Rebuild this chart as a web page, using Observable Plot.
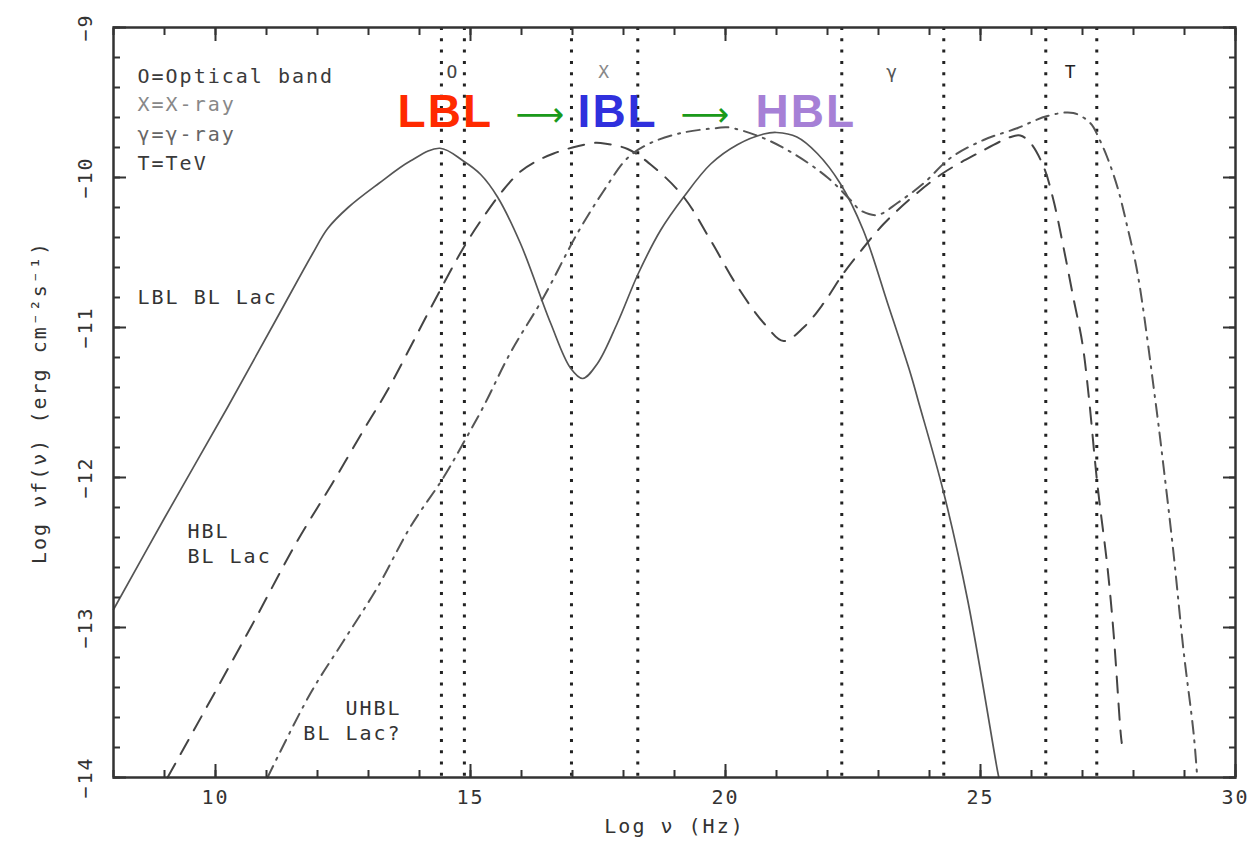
<!DOCTYPE html>
<html>
<head>
<meta charset="utf-8">
<script src="https://cdn.jsdelivr.net/npm/d3@7"></script>
<script src="https://cdn.jsdelivr.net/npm/@observablehq/plot@0.6"></script>
<style>
  html, body { margin: 0; padding: 0; background: #fff; }
  #chart svg { display: block; }
</style>
</head>
<body>
<div id="chart"></div>
<script>
// Synchrotron + inverse-Compton SED shapes of the three BL Lac classes
// (log frequency in Hz vs log nuF(nu) in erg cm^-2 s^-1)

const lblX = [8, 9, 10.24, 11.2, 11.9, 12.2, 12.6, 13.2, 13.82, 14.4, 14.86, 15.2, 15.53, 15.98, 16.57, 16.96, 17.2, 17.49, 17.88, 18.29, 18.73, 19.18, 19.71, 20.24, 20.75, 21.0, 21.4, 21.8, 22.25, 22.7, 23.18, 23.63, 23.78, 24.27, 24.75, 25.33, 25.36];
const lblY = [-12.88, -12.27, -11.53, -10.94, -10.51, -10.34, -10.2, -10.04, -9.89, -9.805, -9.89, -9.98, -10.13, -10.44, -10.97, -11.27, -11.34, -11.24, -10.97, -10.64, -10.35, -10.13, -9.91, -9.78, -9.71, -9.70, -9.73, -9.84, -10.04, -10.35, -10.84, -11.31, -11.49, -12.09, -12.82, -13.95, -14.0];

const hblX = [9.06, 10.69, 11.61, 12.29, 12.98, 13.37, 14.22, 14.86, 15.3, 15.65, 15.98, 16.3, 16.63, 17.0, 17.41, 17.55, 18.08, 18.59, 19.18, 19.71, 20.24, 20.75, 21.14, 21.53, 21.92, 22.31, 22.7, 23.1, 23.63, 24.27, 24.94, 25.59, 25.78, 25.98, 26.24, 26.43, 26.63, 26.82, 27.0, 27.12, 27.29, 27.49, 27.61, 27.75, 27.77];
const hblY = [-14.0, -13.0, -12.42, -12.04, -11.64, -11.42, -10.87, -10.47, -10.24, -10.08, -9.96, -9.89, -9.84, -9.8, -9.77, -9.77, -9.81, -9.93, -10.13, -10.42, -10.73, -10.97, -11.09, -11.0, -10.84, -10.64, -10.47, -10.31, -10.14, -9.97, -9.84, -9.73, -9.72, -9.77, -9.93, -10.15, -10.47, -10.8, -11.11, -11.45, -12.04, -12.6, -13.04, -13.71, -13.77];

const uhblX = [11.02, 11.86, 12.51, 13.18, 13.82, 14.47, 14.86, 15.25, 15.78, 16.43, 17.1, 17.61, 18.08, 18.53, 19.18, 19.84, 20.04, 20.69, 21.33, 22.0, 22.45, 22.65, 22.98, 23.37, 23.88, 24.41, 25.06, 25.73, 26.31, 26.82, 27.16, 27.31, 27.49, 27.69, 27.88, 28.08, 28.43, 28.59, 28.78, 28.98, 29.18, 29.25];
const uhblY = [-14.0, -13.44, -13.09, -12.73, -12.33, -12.0, -11.77, -11.53, -11.17, -10.8, -10.37, -10.09, -9.87, -9.77, -9.70, -9.67, -9.665, -9.73, -9.84, -10.0, -10.15, -10.22, -10.25, -10.17, -10.04, -9.87, -9.75, -9.67, -9.59, -9.57, -9.64, -9.73, -9.87, -10.07, -10.33, -10.64, -11.49, -11.93, -12.49, -13.15, -13.71, -14.0];

// observing bands (log Hz edges)
const bandNames = ["O", "X", "γ", "T"];
const bandLo = [14.43, 16.98, 22.28, 26.28];
const bandHi = [14.88, 18.28, 24.28, 27.28];
const bandColors = ["#444", "#888", "#555", "#222"];

const legendLines = ["O=Optical band", "X=X-ray", "γ=γ-ray", "T=TeV"];

// curve annotations: text, anchor x (log Hz), baseline y (log nuFnu)
const curveLabels = ["LBL BL Lac", "HBL\nBL Lac", "UHBL\nBL Lac?"];
const curveLabelX = [8.47, 9.45, 13.65];
const curveLabelY = [-10.84, -12.567, -13.747];

// sequence headline
const seqNames = ["LBL", "IBL", "HBL"];
const seqX = [13.57, 17.10, 20.59];
const seqY = -9.665;
const seqColors = ["#ff2a00", "#3030dd", "#a680d6"];
const arrowX = [15.88, 19.12];

const xMajor = [10, 15, 20, 25, 30];
const xMinor = d3.range(8, 31, 1);
const yMajor = [-14, -13, -12, -11, -10, -9];
const yMinor = d3.range(-14, -8.99, 0.2).map(v => +v.toFixed(1));

const xLabel = "Log ν (Hz)";
const yLabel = "Log νf(ν) (erg cm⁻²s⁻¹)";

const toPoints = (xs, ys) => xs.map((x, i) => ({x, y: ys[i]}));
const lbl = toPoints(lblX, lblY);
const hbl = toPoints(hblX, hblY);
const uhbl = toPoints(uhblX, uhblY);
const bands = bandNames.map((name, i) => ({name, lo: bandLo[i], hi: bandHi[i], color: bandColors[i]}));
const bandEdges = bandLo.concat(bandHi);
const curveAnn = curveLabels.map((t, i) => ({t, x: curveLabelX[i], y: curveLabelY[i]}));
const seq = seqNames.map((t, i) => ({t, x: seqX[i], y: seqY, color: seqColors[i]}));

const mono = "DejaVu Sans Mono";
const axisColor = "#333";
const minus = v => String(v).replace("-", "−");

const tickAxes = [];
for (const anchor of ["bottom", "top"]) {
  tickAxes.push(Plot.axisX({anchor, ticks: xMinor, tickSize: -7, tickFormat: () => "", label: null, stroke: axisColor, strokeWidth: 2}));
  tickAxes.push(Plot.axisX({anchor, ticks: xMajor, tickSize: -13, tickFormat: () => "", label: null, stroke: axisColor, strokeWidth: 2}));
}
for (const anchor of ["left", "right"]) {
  tickAxes.push(Plot.axisY({anchor, ticks: yMinor, tickSize: -7, tickFormat: () => "", label: null, stroke: axisColor, strokeWidth: 2}));
  tickAxes.push(Plot.axisY({anchor, ticks: yMajor, tickSize: -13, tickFormat: () => "", label: null, stroke: axisColor, strokeWidth: 2}));
}

const legendMark = (i, dy, fill) =>
  Plot.text([legendLines[i]], {frameAnchor: "top-left", dx: 24, dy, lineAnchor: "bottom", textAnchor: "start", fill, fontSize: 20});

const chart = Plot.plot({
  width: 1250,
  height: 841,
  marginLeft: 113,
  marginRight: 15,
  marginTop: 27,
  marginBottom: 64,
  style: {fontFamily: mono, fontSize: "20px", background: "#fff", color: axisColor},
  x: {domain: [8, 30]},
  y: {domain: [-14, -9]},
  marks: [
    // band boundaries
    Plot.ruleX(bandEdges, {stroke: "#222", strokeWidth: 3, strokeDasharray: "3,8.3"}),
    // SED curves
    Plot.line(lbl, {x: "x", y: "y", curve: "catmull-rom", stroke: "#555", strokeWidth: 1.7}),
    Plot.line(hbl, {x: "x", y: "y", curve: "catmull-rom", stroke: "#444", strokeWidth: 2, strokeDasharray: "16,11"}),
    Plot.line(uhbl, {x: "x", y: "y", curve: "catmull-rom", stroke: "#555", strokeWidth: 2, strokeDasharray: "13,7,2,7"}),
    // frame and inward ticks on all four sides
    Plot.frame({stroke: axisColor, strokeWidth: 2.5}),
    ...tickAxes,
    // tick labels
    Plot.axisX({anchor: "bottom", ticks: xMajor, tickSize: 0, tickPadding: 12, label: null, fill: axisColor, fontSize: 20}),
    Plot.text(yMajor, {y: d => d, frameAnchor: "left", dx: -28, rotate: -90, textAnchor: "middle", text: minus, fill: axisColor, fontSize: 20}),
    // axis titles
    Plot.text([xLabel], {frameAnchor: "bottom", dy: 55, textAnchor: "middle", text: d => d, fill: axisColor, fontSize: 20}),
    Plot.text([yLabel], {frameAnchor: "left", dx: -74, rotate: -90, textAnchor: "middle", text: d => d, fill: axisColor, fontSize: 20}),
    // band names
    Plot.text(bands, {x: d => (d.lo + d.hi) / 2, frameAnchor: "top", dy: 38, text: "name", fill: "color", fontSize: 18}),
    // key to band names
    legendMark(0, 55, "#3a3a3a"),
    legendMark(1, 83, "#888"),
    legendMark(2, 113, "#666"),
    legendMark(3, 142, "#3a3a3a"),
    // curve names
    Plot.text(curveAnn.slice(0, 2), {x: "x", y: "y", text: "t", textAnchor: "start", lineAnchor: "bottom", lineHeight: 1.25, fill: "#333", fontSize: 20}),
    Plot.text(curveAnn.slice(2), {x: "x", y: "y", text: "t", textAnchor: "end", lineAnchor: "bottom", lineHeight: 1.25, fill: "#333", fontSize: 20}),
    // LBL -> IBL -> HBL headline
    Plot.text(seq, {x: "x", y: "y", text: "t", fill: "color", textAnchor: "start", lineAnchor: "bottom", fontFamily: "Liberation Sans", fontWeight: "bold", fontSize: 46, ariaLabel: "headline"}),
    Plot.text(arrowX, {x: d => d, y: () => seqY, text: () => "⟶", textAnchor: "start", lineAnchor: "bottom", dy: -1, fill: "#1a9a1a", fontFamily: "DejaVu Sans", fontSize: 34, ariaLabel: "headline"})
  ]
});

// the plotting font is set wide, as on the original instrument plots
const svg = d3.select(chart);
svg.selectAll("text").style("letter-spacing", "2px");
svg.selectAll('g[aria-label="headline"] text').style("letter-spacing", "0px");

document.getElementById("chart").appendChild(chart);
</script>
</body>
</html>
